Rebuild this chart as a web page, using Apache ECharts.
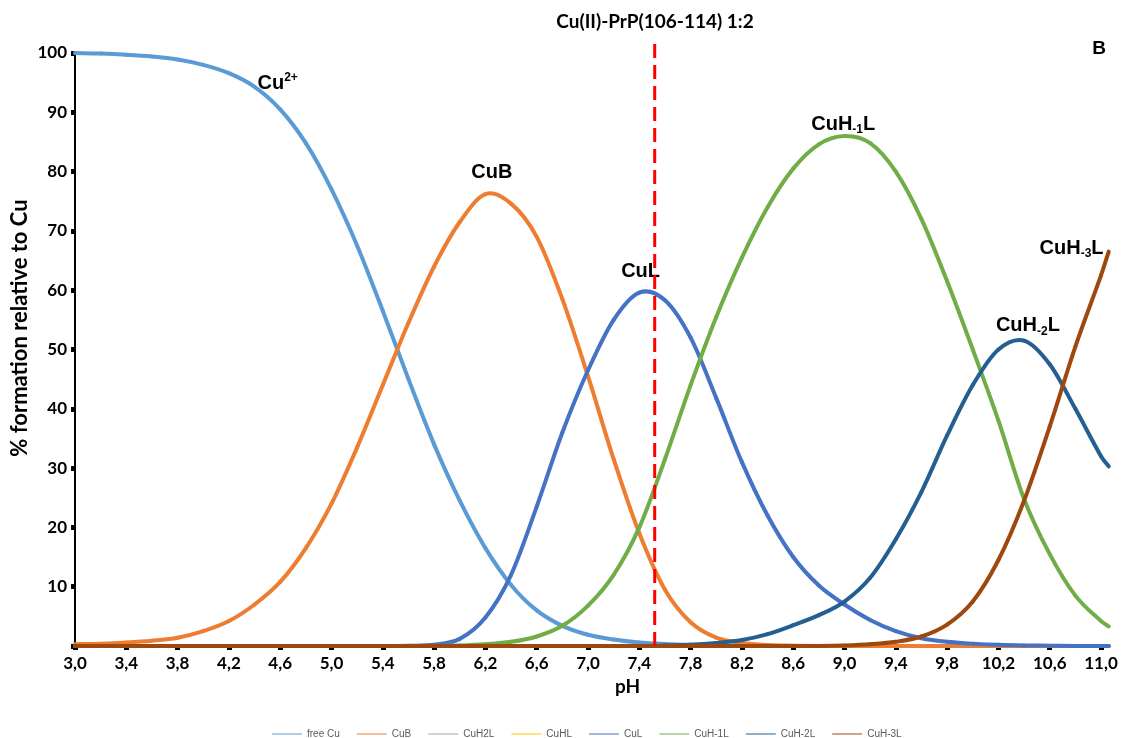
<!DOCTYPE html>
<html>
<head>
<meta charset="utf-8">
<title>Cu(II)-PrP(106-114) 1:2</title>
<script src="https://cdn.jsdelivr.net/npm/echarts@6/dist/echarts.min.js"></script>
<style>
  html, body { margin: 0; padding: 0; background: #ffffff; }
  #chart { width: 1128px; height: 738px; }
</style>
</head>
<body>
<div id="chart"></div>
<script>
// pH sampling points of the speciation curves
const pH = [3.0, 3.2, 3.4, 3.6, 3.8, 4.0, 4.2, 4.4, 4.6, 4.8,
            5.0, 5.2, 5.4, 5.6, 5.8, 6.0, 6.2, 6.4, 6.6, 6.8,
            7.0, 7.2, 7.4, 7.6, 7.8, 8.0, 8.2, 8.4, 8.6, 8.8,
            9.0, 9.2, 9.4, 9.6, 9.8, 10.0, 10.2, 10.4, 10.6, 10.8,
            11.0, 11.06];

// % formation relative to Cu for each species
const freeCu = [100, 99.9, 99.7, 99.4, 98.9, 98.0, 96.6, 94.3, 90.5, 84.8,
                77.0, 67.5, 56.5, 45.0, 34.0, 24.5, 16.5, 10.3, 6.0, 3.4,
                1.9, 1.1, 0.6, 0.35, 0.2, 0.1, 0.05, 0.03, 0, 0,
                0, 0, 0, 0, 0, 0, 0, 0, 0, 0,
                0, 0];
const cuB = [0.3, 0.4, 0.6, 0.9, 1.4, 2.5, 4.2, 7.0, 10.8, 16.5,
             24.0, 33.5, 44.0, 54.5, 64.0, 71.5, 76.2, 74.6, 69.0, 58.5,
             45.5, 31.5, 19.0, 9.5, 4.0, 1.4, 0.5, 0.15, 0.05, 0,
             0, 0, 0, 0, 0, 0, 0, 0, 0, 0,
             0, 0];
const cuH2L = [0, 0, 0, 0, 0, 0, 0, 0, 0, 0,
               0, 0, 0, 0, 0, 0, 0, 0, 0, 0,
               0, 0, 0, 0, 0, 0, 0, 0, 0, 0,
               0, 0, 0, 0, 0, 0, 0, 0, 0, 0,
               0, 0];
const cuHL = [0, 0, 0, 0, 0, 0, 0, 0, 0, 0,
              0, 0, 0, 0, 0, 0, 0, 0, 0, 0,
              0, 0, 0, 0, 0, 0, 0, 0, 0, 0,
              0, 0, 0, 0, 0, 0, 0, 0, 0, 0,
              0, 0];
const cuL = [0, 0, 0, 0, 0, 0, 0, 0, 0, 0,
             0, 0, 0, 0.05, 0.2, 1.2, 4.8, 12.0, 23.5, 36.0,
             46.5, 55.0, 59.6, 58.3, 52.0, 41.8, 31.0, 22.0, 15.0, 10.2,
             7.0, 4.4, 2.5, 1.3, 0.7, 0.4, 0.2, 0.1, 0.05, 0,
             0, 0];
const cuHm1L = [0, 0, 0, 0, 0, 0, 0, 0, 0, 0,
                0, 0, 0, 0, 0, 0.1, 0.3, 0.7, 1.6, 3.4,
                6.8, 12.0, 20.0, 31.5, 44.0, 55.5, 65.5, 74.0, 80.5, 84.6,
                86.0, 84.8, 80.0, 72.0, 61.5, 50.0, 38.0, 24.8, 15.5, 8.5,
                4.2, 3.3];
const cuHm2L = [0, 0, 0, 0, 0, 0, 0, 0, 0, 0,
                0, 0, 0, 0, 0, 0, 0, 0, 0, 0,
                0, 0, 0, 0.1, 0.2, 0.5, 1.0, 2.0, 3.5, 5.2,
                7.5, 11.5, 18.0, 26.0, 35.5, 44.0, 50.0, 51.5, 47.5, 40.0,
                32.0, 30.3];
const cuHm3L = [0, 0, 0, 0, 0, 0, 0, 0, 0, 0,
                0, 0, 0, 0, 0, 0, 0, 0, 0, 0,
                0, 0, 0, 0, 0, 0, 0, 0, 0, 0,
                0.1, 0.3, 0.7, 1.6, 3.6, 7.5, 14.5, 24.5, 37.0, 50.5,
                62.5, 66.5];

// x-axis tick labels
const xTicks = [3.0, 3.4, 3.8, 4.2, 4.6, 5.0, 5.4, 5.8, 6.2, 6.6,
                7.0, 7.4, 7.8, 8.2, 8.6, 9.0, 9.4, 9.8, 10.2, 10.6, 11.0];

// physiological-pH marker (dashed line)
const markerPH = 7.52;
const markerRange = [0, 101.9];

const speciesNames = ['free Cu', 'CuB', 'CuH2L', 'CuHL', 'CuL', 'CuH-1L', 'CuH-2L', 'CuH-3L'];
const speciesValues = [freeCu, cuB, cuH2L, cuHL, cuL, cuHm1L, cuHm2L, cuHm3L];
const speciesColors = ['#5B9BD5', '#ED7D31', '#A5A5A5', '#FFC000', '#4472C4', '#70AD47', '#255E91', '#9E480E'];

// curve annotations: [label text, pH, value]
const curveLabels = [
  ['{b|Cu}{sup|2+}', 4.58, 94.8],
  ['{b|CuB}', 6.25, 79.8],
  ['{b|CuL}', 7.41, 63.2],
  ['{b|CuH}{sub|-1}{b|L}', 8.99, 88.0],
  ['{b|CuH}{sub|-2}{b|L}', 10.43, 54.0],
  ['{b|CuH}{sub|-3}{b|L}', 10.77, 67.1]
];

const labelRich = {
  b:   { fontFamily: 'Liberation Sans', fontWeight: 'bold', fontSize: 20, color: '#000', lineHeight: 24 },
  sub: { fontFamily: 'Liberation Sans', fontWeight: 'bold', fontSize: 12, color: '#000', lineHeight: 12, verticalAlign: 'bottom' },
  sup: { fontFamily: 'Liberation Sans', fontWeight: 'bold', fontSize: 12, color: '#000', lineHeight: 12, verticalAlign: 'top' }
};

const axisFont = { fontFamily: 'Lato', fontWeight: 'bold', color: '#000' };

// Smooth curve through the samples: one cubic Bezier per interval,
// tangents from neighbouring samples (cubic Hermite in pixel space).
function makeCurveRenderer(values, color) {
  return function (params, api) {
    const k = params.dataIndex;
    if (k >= pH.length - 1) return null;
    const pt = i => api.coord([pH[i], values[i]]);
    const p0 = pt(k), p1 = pt(k + 1);
    const slope = i => {
      const a = pt(Math.max(i - 1, 0)), b = pt(Math.min(i + 1, pH.length - 1));
      return (b[1] - a[1]) / (b[0] - a[0]);
    };
    const h = p1[0] - p0[0];
    const m0 = slope(k), m1 = slope(k + 1);
    return {
      type: 'bezierCurve',
      shape: {
        x1: p0[0], y1: p0[1],
        cpx1: p0[0] + h / 3, cpy1: p0[1] + m0 * h / 3,
        cpx2: p1[0] - h / 3, cpy2: p1[1] - m1 * h / 3,
        x2: p1[0], y2: p1[1]
      },
      style: { stroke: color, lineWidth: 4, fill: null, lineCap: 'round' },
      silent: true
    };
  };
}

// species that stay at zero sit underneath the others along the axis
const series = speciesNames.map((name, i) => ({
  name: name,
  type: 'custom',
  renderItem: makeCurveRenderer(speciesValues[i], speciesColors[i]),
  data: pH.map((x, k) => [x, speciesValues[i][k]]),
  encode: { x: 0, y: 1 },
  itemStyle: { color: speciesColors[i] },
  clip: false,
  z: (name === 'CuH2L' || name === 'CuHL') ? 1 : 2
}));

series.push({
  name: 'pH marker',
  type: 'line',
  data: markerRange.map(v => [markerPH, v]),
  symbol: 'none',
  clip: false,
  z: 5,
  lineStyle: { color: '#FF0000', width: 3, type: [14, 7] },
  markPoint: {
    symbol: 'circle',
    symbolSize: 1,
    itemStyle: { color: 'rgba(0,0,0,0)' },
    label: { show: true, position: 'inside', rich: labelRich },
    data: curveLabels.map(l => ({ coord: [l[1], l[2]], label: { formatter: l[0] } }))
  }
});

const chart = echarts.init(document.getElementById('chart'), null, { renderer: 'canvas' });
chart.setOption({
  animation: false,
  backgroundColor: '#ffffff',
  title: [
    {
      text: 'Cu(II)-PrP(106-114) 1:2',
      left: 650, top: 7, textAlign: 'center',
      textStyle: { fontFamily: 'Lato', fontWeight: 'bold', fontSize: 19, color: '#000' }
    },
    {
      text: 'B',
      left: 1094, top: 34, textAlign: 'center',
      textStyle: { fontFamily: 'Liberation Sans', fontWeight: 'bold', fontSize: 19, color: '#000' }
    }
  ],
  graphic: [{
    type: 'text',
    x: 20, y: 328,
    rotation: Math.PI / 2,
    style: {
      text: '% formation relative to Cu',
      fontFamily: 'Lato', fontWeight: 'bold', fontSize: 22, fill: '#000',
      align: 'center', verticalAlign: 'middle'
    }
  }],
  legend: {
    data: speciesNames,
    top: 724,
    left: 267,
    itemWidth: 30,
    itemHeight: 8,
    itemGap: 17,
    icon: 'path://M0,4 L30,4 L30,5 L0,5 Z',
    textStyle: { fontFamily: 'Liberation Sans', fontSize: 10, color: '#595959' }
  },
  grid: { left: 75, right: 18, top: 53, bottom: 92, containLabel: false },
  xAxis: {
    type: 'value',
    min: 3.0,
    max: 11.07,
    interval: 0.4,
    name: 'pH',
    nameLocation: 'middle',
    nameGap: 31,
    nameTextStyle: { ...axisFont, fontSize: 19, padding: [0, 0, 0, 70] },
    axisLine: { show: true, onZero: false, lineStyle: { color: '#000', width: 2 } },
    axisTick: { show: true, length: 4, customValues: xTicks, lineStyle: { color: '#000', width: 5 } },
    axisLabel: {
      ...axisFont, fontSize: 17, margin: 9,
      customValues: xTicks,
      formatter: v => {
        const k = Math.round((v - 3) / 0.4);
        if (Math.abs(3 + k * 0.4 - v) > 1e-6) return '';
        return v.toFixed(1).replace('.', ',');
      }
    },
    splitLine: { show: false }
  },
  yAxis: {
    type: 'value',
    min: 0,
    max: 100,
    interval: 10,
    axisLine: { show: true, lineStyle: { color: '#000', width: 2 } },
    axisTick: { show: true, length: 4, lineStyle: { color: '#000', width: 5 } },
    axisLabel: { ...axisFont, fontSize: 17, margin: 8, formatter: v => (v === 0 ? '' : String(v)) },
    splitLine: { show: false }
  },
  series: series
});
</script>
</body>
</html>
